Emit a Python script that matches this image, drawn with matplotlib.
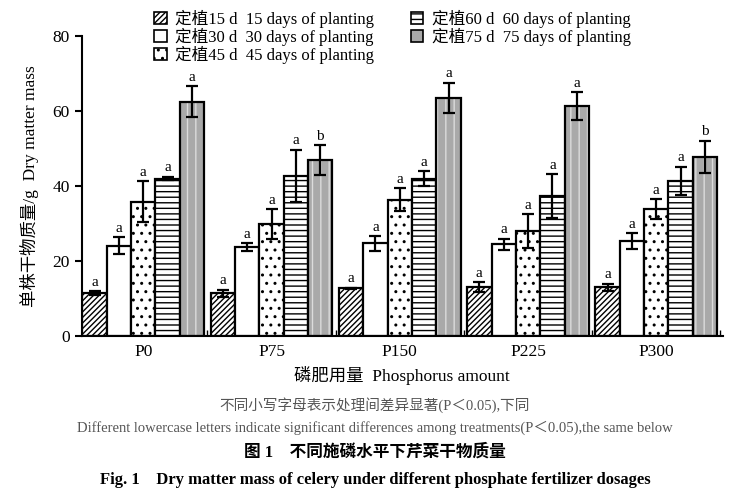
import numpy as np
import matplotlib
matplotlib.use("Agg")
import matplotlib.pyplot as plt

plt.rcParams["font.family"] = ["Liberation Serif", "Noto Sans CJK SC"]
plt.rcParams["hatch.linewidth"] = 1.0

groups = ["P0", "P75", "P150", "P225", "P300"]
series = ["定植15 d  15 days of planting", "定植30 d  30 days of planting",
          "定植45 d  45 days of planting", "定植60 d  60 days of planting",
          "定植75 d  75 days of planting"]

# dry mass per plant (g), one list per planting stage, across phosphorus levels
d15 = [11.5, 11.4, 12.7, 13.0, 13.0]
d30 = [24.1, 23.8, 24.7, 24.5, 25.3]
d45 = [35.8, 29.9, 36.4, 28.0, 33.8]
d60 = [42.0, 42.7, 41.9, 37.4, 41.4]
d75 = [62.5, 46.9, 63.6, 61.3, 47.8]

e15 = [0.5, 1.0, 0.2, 1.3, 1.0]
e30 = [2.3, 1.0, 2.0, 1.5, 2.1]
e45 = [5.5, 4.0, 3.0, 4.5, 2.7]
e60 = [0.5, 7.0, 2.0, 5.8, 3.8]
e75 = [4.2, 4.0, 4.0, 3.8, 4.3]

letters15 = ["a", "a", "a", "a", "a"]
letters30 = ["a", "a", "a", "a", "a"]
letters45 = ["a", "a", "a", "a", "a"]
letters60 = ["a", "a", "a", "a", "a"]
letters75 = ["a", "b", "a", "a", "b"]

values = [d15, d30, d45, d60, d75]
errors = [e15, e30, e45, e60, e75]
letters = [letters15, letters30, letters45, letters60, letters75]
hatches = ["//////", "", "..", "---", None]

fig = plt.figure(figsize=(7.5, 5), dpi=100)
ax = fig.add_axes([0.109, 0.328, 0.855, 0.6])

x = np.arange(len(groups))
w = 0.19
handles = []
for i in range(5):
    pos = x + (i - 2) * w
    if hatches[i] is None:
        # grey bar with light vertical stripes, then black outline on top
        ax.bar(pos, values[i], w, color="#a9a9a9", edgecolor="#dcdcdc",
               hatch="||", linewidth=0)
        ax.bar(pos, values[i], w, fill=False, edgecolor="black",
               linewidth=1.6)
        handles.append(plt.Rectangle((0, 0), 1, 1, facecolor="#a9a9a9",
                                     edgecolor="black", linewidth=1.2))
    else:
        ax.bar(pos, values[i], w, color="white", edgecolor="black",
               hatch=hatches[i], linewidth=1.6)
        handles.append(plt.Rectangle((0, 0), 1, 1, facecolor="white",
                                     edgecolor="black", hatch=hatches[i],
                                     linewidth=1.2))
    ax.errorbar(pos, values[i], yerr=errors[i], fmt="none", ecolor="black",
                elinewidth=1.6, capsize=4.5, capthick=1.6)
    for xp, v, e, t in zip(pos, values[i], errors[i], letters[i]):
        ax.text(xp, v + e + 0.6, t, ha="center", va="bottom", fontsize=11)

ax.set_xlim(-0.48, 4.52)
ax.set_ylim(0, 80)
ax.set_yticks([0, 20, 40, 60, 80])
ax.set_xticks(x)
ax.set_xticklabels(groups, fontsize=12.5)
ax.set_xticks(np.arange(0.5, 5, 1), minor=True)
ax.tick_params(axis="x", which="major", length=0, pad=6)
ax.tick_params(axis="x", which="minor", direction="in", length=4, width=1)
ax.tick_params(axis="y", direction="out", length=5, width=1.5, labelsize=12.5)
for s in ["top", "right"]:
    ax.spines[s].set_visible(False)
ax.spines["left"].set_linewidth(1.5)
ax.spines["bottom"].set_linewidth(1.5)

ax.set_ylabel("单株干物质量/g  Dry matter mass", fontsize=12.5, labelpad=10)
ax.set_xlabel("磷肥用量  Phosphorus amount", fontsize=12.5, labelpad=4)

ax.legend(handles, series, ncol=2, loc="upper left",
          bbox_to_anchor=(0.1, 1.115), frameon=False, fontsize=12,
          handlelength=0.75, handleheight=0.75, handletextpad=0.5,
          labelspacing=0.0, columnspacing=2.2, borderpad=0)

fig.text(0.5, 0.19, "不同小写字母表示处理间差异显著(P＜0.05),下同",
         ha="center", va="center", fontsize=10.5, color="#555555")
fig.text(0.5, 0.145, "Different lowercase letters indicate significant "
         "differences among treatments(P＜0.05),the same below",
         ha="center", va="center", fontsize=10.5, color="#555555")
fig.text(0.5, 0.096, "图 1    不同施磷水平下芹菜干物质量", ha="center",
         va="center", fontsize=12, fontweight="bold")
fig.text(0.5, 0.04, "Fig. 1    Dry matter mass of celery under different "
         "phosphate fertilizer dosages", ha="center", va="center",
         fontsize=12, fontweight="bold")

fig.savefig("out.png", dpi=100)
